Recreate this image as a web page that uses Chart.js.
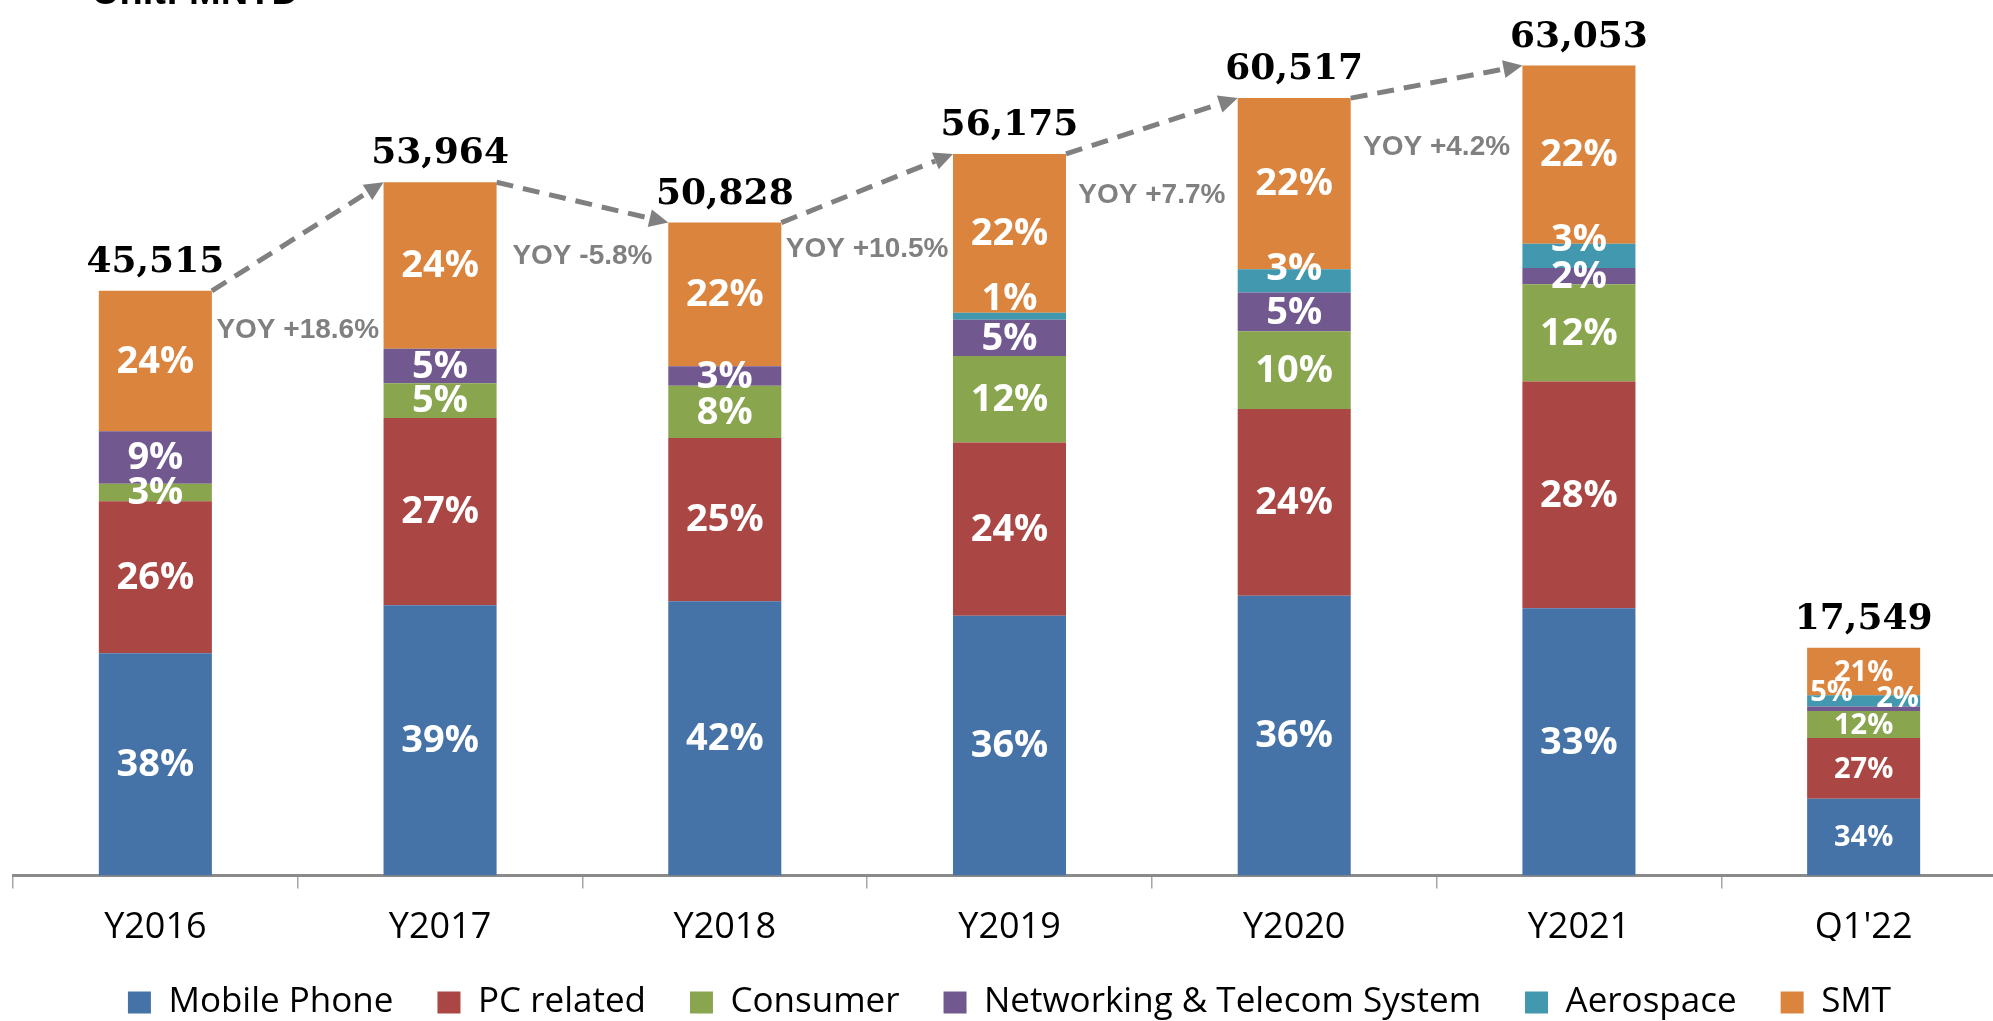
<!DOCTYPE html>
<html>
<head>
<meta charset="utf-8">
<title>Revenue by application</title>
<script src="https://cdn.jsdelivr.net/npm/chart.js@4.4.1/dist/chart.umd.min.js"></script>
<style>
  html, body { margin: 0; padding: 0; background: #fff; overflow: hidden; }
  #wrap { position: relative; width: 2006px; height: 1030px; }
</style>
</head>
<body>
<div id="wrap"><canvas id="sales-chart"></canvas></div>
<script>
// values (MNTD and % share)
var categories = ['Y2016', 'Y2017', 'Y2018', 'Y2019', 'Y2020', 'Y2021', "Q1'22"];
var totals = [45515, 53964, 50828, 56175, 60517, 63053, 17549];

var mobilePct = [38, 39, 42, 36, 36, 33, 34];
var pcPct = [26, 27, 25, 24, 24, 28, 27];
var consumerPct = [3, 5, 8, 12, 10, 12, 12];
var networkPct = [9, 5, 3, 5, 5, 2, 2];
var aeroPct = [0, 0, 0, 1, 3, 3, 5];
var smtPct = [24, 24, 22, 22, 22, 22, 21];

var yoyLabels = ['YOY +18.6%', 'YOY -5.8%', 'YOY +10.5%', 'YOY +7.7%', 'YOY +4.2%'];

var seriesNames = ['Mobile Phone', 'PC related', 'Consumer', 'Networking & Telecom System', 'Aerospace', 'SMT'];
var seriesPct = [mobilePct, pcPct, consumerPct, networkPct, aeroPct, smtPct];
var seriesColors = ['#4572A7', '#AA4643', '#89A54E', '#71588F', '#4198AF', '#DB843D'];

// styling / placement tweaks
var yoyDy = [39, 74, 27, 41, 49];
var pctFontSize = [38, 38, 38, 38, 38, 38, 29];
var labelNudge = {
  '4-3': { top: true, dx: 0, dy: -14 },
  '4-4': { top: true, dx: 0, dy: -1 },
  '4-5': { top: true, dx: 0, dy: -5 },
  '4-6': { top: true, dx: -32, dy: -3 },
  '3-6': { top: true, dx: 34, dy: -9 }
};

function toMntd(pct) {
  return pct.map(function (p, i) { return totals[i] * p / 100; });
}

var datasets = seriesNames.map(function (name, k) {
  return {
    label: name,
    data: toMntd(seriesPct[k]),
    pct: seriesPct[k],
    backgroundColor: seriesColors[k],
    borderWidth: 0,
    categoryPercentage: 1.0,
    barPercentage: 0.397
  };
});

function drawArrow(ctx, x1, y1, x2, y2) {
  var ang = Math.atan2(y2 - y1, x2 - x1);
  var headLen = 19, headW = 9;
  var bx = x2 - headLen * Math.cos(ang), by = y2 - headLen * Math.sin(ang);
  ctx.save();
  ctx.strokeStyle = '#808080';
  ctx.fillStyle = '#808080';
  ctx.lineWidth = 5;
  ctx.setLineDash([17, 10]);
  ctx.beginPath();
  ctx.moveTo(x1, y1);
  ctx.lineTo(bx, by);
  ctx.stroke();
  ctx.setLineDash([]);
  ctx.beginPath();
  ctx.moveTo(x2, y2);
  ctx.lineTo(bx + headW * Math.sin(ang), by - headW * Math.cos(ang));
  ctx.lineTo(bx - headW * Math.sin(ang), by + headW * Math.cos(ang));
  ctx.closePath();
  ctx.fill();
  ctx.restore();
}

var annotate = {
  id: 'annotate',
  afterDatasetsDraw: function (chart) {
    var ctx = chart.ctx;
    var topMeta = chart.getDatasetMeta(datasets.length - 1);

    // share labels inside segments
    datasets.forEach(function (ds, k) {
      var meta = chart.getDatasetMeta(k);
      meta.data.forEach(function (bar, i) {
        if (!ds.pct[i]) return;
        var nudge = labelNudge[k + '-' + i];
        var x = bar.x, y = (bar.y + bar.base) / 2;
        if (nudge) {
          y = nudge.top ? bar.y : y;
          x += nudge.dx;
          y += nudge.dy;
        }
        ctx.save();
        ctx.fillStyle = '#fff';
        ctx.font = 'bold ' + pctFontSize[i] + 'px "Open Sans"';
        ctx.textAlign = 'center';
        ctx.textBaseline = 'middle';
        ctx.fillText(ds.pct[i] + '%', x, y + 1);
        ctx.restore();
      });
    });

    // totals above bars
    topMeta.data.forEach(function (bar, i) {
      ctx.save();
      ctx.fillStyle = '#000';
      ctx.font = 'bold 36px "DejaVu Serif"';
      ctx.textAlign = 'center';
      ctx.textBaseline = 'alphabetic';
      ctx.fillText(totals[i].toLocaleString('en-US'), bar.x, bar.y - 19);
      ctx.restore();
    });

    // yoy arrows and labels
    yoyLabels.forEach(function (txt, i) {
      var a = topMeta.data[i], b = topMeta.data[i + 1];
      var ax = a.x + a.width / 2, bx = b.x - b.width / 2;
      drawArrow(ctx, ax, a.y, bx, b.y);
      ctx.save();
      ctx.fillStyle = '#808080';
      ctx.font = 'bold 28px "Liberation Sans"';
      ctx.textAlign = 'center';
      ctx.textBaseline = 'middle';
      ctx.fillText(txt, (ax + bx) / 2, a.y + yoyDy[i]);
      ctx.restore();
    });

    // unit caption, clipped by the top edge like the source
    ctx.save();
    ctx.fillStyle = '#000';
    ctx.font = 'bold 38px "Liberation Sans"';
    ctx.textAlign = 'left';
    ctx.textBaseline = 'alphabetic';
    ctx.fillText('Unit: MNTD', 92, 4);
    ctx.restore();
  }
};

var chart = new Chart(document.getElementById('sales-chart'), {
  type: 'bar',
  data: {
    labels: categories,
    datasets: datasets
  },
  options: {
    responsive: true,
    maintainAspectRatio: false,
    animation: false,
    layout: {
      padding: { top: 2, left: 13, right: 0, bottom: 0 }
    },
    scales: {
      x: {
        stacked: true,
        border: { display: true, color: '#8a8a8a', width: 3 },
        grid: {
          drawOnChartArea: false,
          drawTicks: true,
          tickLength: 13,
          color: '#a6a6a6',
          lineWidth: 1.5
        },
        ticks: {
          color: '#000',
          padding: 18,
          font: { family: '"Open Sans"', size: 36 }
        },
        afterFit: function (scale) { scale.height = 65.5; }
      },
      y: {
        stacked: true,
        display: false,
        min: 0,
        max: 68000
      }
    },
    plugins: {
      legend: {
        position: 'bottom',
        labels: {
          boxWidth: 23,
          boxHeight: 22,
          padding: 44,
          color: '#000',
          font: { family: '"Open Sans"', size: 35 }
        }
      },
      tooltip: { enabled: false }
    }
  },
  plugins: [annotate]
});
</script>
</body>
</html>
